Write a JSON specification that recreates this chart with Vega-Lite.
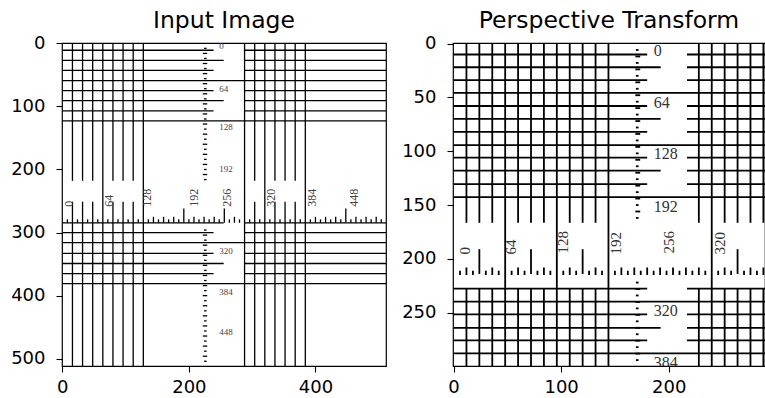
{
"$schema": "https://vega.github.io/schema/vega-lite/v6.json",
"background": "white",
"padding": {"left": 10, "top": 8, "right": 0, "bottom": 0},
"spacing": 14,
"config": {
 "view": {"stroke": "black", "strokeWidth": 1.2},
 "axis": {"domain": false, "grid": false, "tickColor": "black", "tickSize": 6, "tickWidth": 1.1, "labelFont": "DejaVu Sans", "labelFontSize": 18, "labelColor": "black", "labelFlush": false, "labelOverlap": false},
 "axisX": {"labelPadding": 6},
 "axisY": {"labelPadding": 11},
 "title": {"font": "DejaVu Sans", "fontSize": 23.5, "fontWeight": "normal", "color": "black", "baseline": "alphabetic", "offset": 2, "anchor": "middle"}
},
"datasets": {
 "Llines": [
  {"x":0,"y":11,"x2":239,"y2":11},{"x":288,"y":11,"x2":512,"y2":11},
  {"x":0,"y":27,"x2":255,"y2":27},{"x":288,"y":27,"x2":512,"y2":27},
  {"x":0,"y":43,"x2":239,"y2":43},{"x":288,"y":43,"x2":512,"y2":43},
  {"x":0,"y":59,"x2":512,"y2":59},
  {"x":0,"y":75,"x2":239,"y2":75},{"x":288,"y":75,"x2":512,"y2":75},
  {"x":0,"y":91,"x2":255,"y2":91},{"x":288,"y":91,"x2":512,"y2":91},
  {"x":0,"y":107,"x2":239,"y2":107},{"x":288,"y":107,"x2":512,"y2":107},
  {"x":0,"y":123,"x2":512,"y2":123},
  {"x":0,"y":284.5,"x2":255,"y2":284.5},{"x":288,"y":284.5,"x2":512,"y2":284.5},
  {"x":0,"y":300,"x2":239,"y2":300},{"x":288,"y":300,"x2":512,"y2":300},
  {"x":0,"y":316,"x2":512,"y2":316},
  {"x":0,"y":333,"x2":239,"y2":333},{"x":288,"y":333,"x2":512,"y2":333},
  {"x":0,"y":349,"x2":255,"y2":349},{"x":288,"y":349,"x2":512,"y2":349},
  {"x":0,"y":365,"x2":239,"y2":365},{"x":288,"y":365,"x2":512,"y2":365},
  {"x":0,"y":381,"x2":512,"y2":381},
  {"x":16,"y":0,"x2":16,"y2":218},{"x":16,"y":251,"x2":16,"y2":512},
  {"x":32,"y":0,"x2":32,"y2":218},{"x":32,"y":251,"x2":32,"y2":512},
  {"x":48,"y":0,"x2":48,"y2":218},{"x":48,"y":251,"x2":48,"y2":512},
  {"x":80,"y":0,"x2":80,"y2":218},{"x":80,"y":251,"x2":80,"y2":512},
  {"x":96,"y":0,"x2":96,"y2":218},{"x":96,"y":251,"x2":96,"y2":512},
  {"x":112,"y":0,"x2":112,"y2":218},{"x":112,"y":251,"x2":112,"y2":512},
  {"x":304,"y":0,"x2":304,"y2":218},{"x":304,"y":251,"x2":304,"y2":512},
  {"x":336,"y":0,"x2":336,"y2":218},{"x":336,"y":251,"x2":336,"y2":512},
  {"x":352,"y":0,"x2":352,"y2":218},{"x":352,"y":251,"x2":352,"y2":512},
  {"x":368,"y":0,"x2":368,"y2":218},{"x":368,"y":251,"x2":368,"y2":512},
  {"x":64,"y":0,"x2":64,"y2":512},{"x":128,"y":0,"x2":128,"y2":512},
  {"x":288,"y":0,"x2":288,"y2":512},{"x":320,"y":0,"x2":320,"y2":512},
  {"x":384,"y":0,"x2":384,"y2":512},
  {"x":144,"y":275,"x2":144,"y2":284.5},{"x":160,"y":275,"x2":160,"y2":284.5},
  {"x":176,"y":275,"x2":176,"y2":284.5},{"x":208,"y":275,"x2":208,"y2":284.5},
  {"x":224,"y":275,"x2":224,"y2":284.5},{"x":240,"y":275,"x2":240,"y2":284.5},
  {"x":272,"y":275,"x2":272,"y2":284.5},{"x":400,"y":275,"x2":400,"y2":284.5},
  {"x":416,"y":275,"x2":416,"y2":284.5},{"x":432,"y":275,"x2":432,"y2":284.5},
  {"x":464,"y":275,"x2":464,"y2":284.5},{"x":480,"y":275,"x2":480,"y2":284.5},
  {"x":496,"y":275,"x2":496,"y2":284.5},
  {"x":192,"y":262,"x2":192,"y2":284.5},{"x":256,"y":262,"x2":256,"y2":284.5},
  {"x":448,"y":262,"x2":448,"y2":284.5},
  {"x":8,"y":279,"x2":8,"y2":284.5},{"x":24,"y":279,"x2":24,"y2":284.5},
  {"x":40,"y":279,"x2":40,"y2":284.5},{"x":56,"y":279,"x2":56,"y2":284.5},
  {"x":72,"y":279,"x2":72,"y2":284.5},{"x":88,"y":279,"x2":88,"y2":284.5},
  {"x":104,"y":279,"x2":104,"y2":284.5},{"x":120,"y":279,"x2":120,"y2":284.5},
  {"x":136,"y":279,"x2":136,"y2":284.5},{"x":152,"y":279,"x2":152,"y2":284.5},
  {"x":168,"y":279,"x2":168,"y2":284.5},{"x":184,"y":279,"x2":184,"y2":284.5},
  {"x":200,"y":279,"x2":200,"y2":284.5},{"x":216,"y":279,"x2":216,"y2":284.5},
  {"x":232,"y":279,"x2":232,"y2":284.5},{"x":248,"y":279,"x2":248,"y2":284.5},
  {"x":264,"y":279,"x2":264,"y2":284.5},{"x":280,"y":279,"x2":280,"y2":284.5},
  {"x":296,"y":279,"x2":296,"y2":284.5},{"x":312,"y":279,"x2":312,"y2":284.5},
  {"x":328,"y":279,"x2":328,"y2":284.5},{"x":344,"y":279,"x2":344,"y2":284.5},
  {"x":360,"y":279,"x2":360,"y2":284.5},{"x":376,"y":279,"x2":376,"y2":284.5},
  {"x":392,"y":279,"x2":392,"y2":284.5},{"x":408,"y":279,"x2":408,"y2":284.5},
  {"x":424,"y":279,"x2":424,"y2":284.5},{"x":440,"y":279,"x2":440,"y2":284.5},
  {"x":456,"y":279,"x2":456,"y2":284.5},{"x":472,"y":279,"x2":472,"y2":284.5},
  {"x":488,"y":279,"x2":488,"y2":284.5},{"x":504,"y":279,"x2":504,"y2":284.5},
  {"x":224,"y":8,"x2":228,"y2":8},{"x":222,"y":16,"x2":229,"y2":16},
  {"x":224,"y":24,"x2":228,"y2":24},{"x":222,"y":32,"x2":229,"y2":32},
  {"x":224,"y":40,"x2":228,"y2":40},{"x":222,"y":48,"x2":229,"y2":48},
  {"x":224,"y":56,"x2":228,"y2":56},{"x":222,"y":64,"x2":229,"y2":64},
  {"x":224,"y":72,"x2":228,"y2":72},{"x":222,"y":80,"x2":229,"y2":80},
  {"x":224,"y":88,"x2":228,"y2":88},{"x":222,"y":96,"x2":229,"y2":96},
  {"x":224,"y":104,"x2":228,"y2":104},{"x":222,"y":112,"x2":229,"y2":112},
  {"x":224,"y":120,"x2":228,"y2":120},{"x":222,"y":128,"x2":229,"y2":128},
  {"x":224,"y":136,"x2":228,"y2":136},{"x":222,"y":144,"x2":229,"y2":144},
  {"x":224,"y":152,"x2":228,"y2":152},{"x":222,"y":160,"x2":229,"y2":160},
  {"x":224,"y":168,"x2":228,"y2":168},{"x":222,"y":176,"x2":229,"y2":176},
  {"x":224,"y":184,"x2":228,"y2":184},{"x":222,"y":192,"x2":229,"y2":192},
  {"x":224,"y":200,"x2":228,"y2":200},{"x":222,"y":208,"x2":229,"y2":208},
  {"x":224,"y":216,"x2":228,"y2":216},
  {"x":224,"y":296,"x2":228,"y2":296},{"x":222,"y":304,"x2":229,"y2":304},
  {"x":224,"y":312,"x2":228,"y2":312},{"x":222,"y":320,"x2":229,"y2":320},
  {"x":224,"y":328,"x2":228,"y2":328},{"x":222,"y":336,"x2":229,"y2":336},
  {"x":224,"y":344,"x2":228,"y2":344},{"x":222,"y":352,"x2":229,"y2":352},
  {"x":224,"y":360,"x2":228,"y2":360},{"x":222,"y":368,"x2":229,"y2":368},
  {"x":224,"y":376,"x2":228,"y2":376},{"x":222,"y":384,"x2":229,"y2":384},
  {"x":224,"y":392,"x2":228,"y2":392},{"x":222,"y":400,"x2":229,"y2":400},
  {"x":224,"y":408,"x2":228,"y2":408},{"x":222,"y":416,"x2":229,"y2":416},
  {"x":224,"y":424,"x2":228,"y2":424},{"x":222,"y":432,"x2":229,"y2":432},
  {"x":224,"y":440,"x2":228,"y2":440},{"x":222,"y":448,"x2":229,"y2":448},
  {"x":224,"y":456,"x2":228,"y2":456},{"x":222,"y":464,"x2":229,"y2":464},
  {"x":224,"y":472,"x2":228,"y2":472},{"x":222,"y":480,"x2":229,"y2":480},
  {"x":224,"y":488,"x2":228,"y2":488},{"x":222,"y":496,"x2":229,"y2":496},
  {"x":224,"y":504,"x2":228,"y2":504}
 ],
 "Ltext": [
  {"t":"0","x":248,"y":5},{"t":"64","x":248,"y":72},{"t":"128","x":248,"y":133},
  {"t":"192","x":248,"y":200},{"t":"320","x":248,"y":330},{"t":"384","x":248,"y":394},
  {"t":"448","x":248,"y":458}
 ],
 "Lrot": [
  {"t":"0","x":10,"y":259},{"t":"64","x":74,"y":259},{"t":"128","x":134,"y":259},
  {"t":"192","x":208,"y":259},{"t":"256","x":261,"y":259},{"t":"320","x":329,"y":259},
  {"t":"384","x":395,"y":259},{"t":"448","x":461,"y":259}
 ],
 "Rlines": [
  {"x":0,"y":10.2,"x2":180,"y2":10.2},{"x":217,"y":10.2,"x2":290,"y2":10.2},
  {"x":0,"y":22,"x2":192.5,"y2":22},{"x":217,"y":22,"x2":290,"y2":22},
  {"x":0,"y":34,"x2":180,"y2":34},{"x":217,"y":34,"x2":290,"y2":34},
  {"x":0,"y":45.8,"x2":290,"y2":45.8},
  {"x":0,"y":58,"x2":180,"y2":58},{"x":217,"y":58,"x2":290,"y2":58},
  {"x":0,"y":70,"x2":192.5,"y2":70},{"x":217,"y":70,"x2":290,"y2":70},
  {"x":0,"y":82,"x2":180,"y2":82},{"x":217,"y":82,"x2":290,"y2":82},
  {"x":0,"y":94.3,"x2":290,"y2":94.3},
  {"x":0,"y":106,"x2":180,"y2":106},{"x":217,"y":106,"x2":290,"y2":106},
  {"x":0,"y":118,"x2":192.5,"y2":118},{"x":217,"y":118,"x2":290,"y2":118},
  {"x":0,"y":130.5,"x2":180,"y2":130.5},{"x":217,"y":130.5,"x2":290,"y2":130.5},
  {"x":0,"y":142.7,"x2":290,"y2":142.7},
  {"x":0,"y":227.7,"x2":180,"y2":227.7},{"x":217,"y":227.7,"x2":290,"y2":227.7},
  {"x":0,"y":239.8,"x2":290,"y2":239.8},
  {"x":0,"y":251.6,"x2":180,"y2":251.6},{"x":217,"y":251.6,"x2":290,"y2":251.6},
  {"x":0,"y":264,"x2":192.5,"y2":264},{"x":217,"y":264,"x2":290,"y2":264},
  {"x":0,"y":275.7,"x2":180,"y2":275.7},{"x":217,"y":275.7,"x2":290,"y2":275.7},
  {"x":0,"y":287.8,"x2":290,"y2":287.8},
  {"x":12,"y":0,"x2":12,"y2":166.5},{"x":12,"y":227.7,"x2":12,"y2":300},
  {"x":24,"y":0,"x2":24,"y2":166.5},{"x":24,"y":227.7,"x2":24,"y2":300},
  {"x":36,"y":0,"x2":36,"y2":166.5},{"x":36,"y":227.7,"x2":36,"y2":300},
  {"x":60,"y":0,"x2":60,"y2":166.5},{"x":60,"y":227.7,"x2":60,"y2":300},
  {"x":72,"y":0,"x2":72,"y2":166.5},{"x":72,"y":227.7,"x2":72,"y2":300},
  {"x":84,"y":0,"x2":84,"y2":166.5},{"x":84,"y":227.7,"x2":84,"y2":300},
  {"x":108,"y":0,"x2":108,"y2":166.5},{"x":108,"y":227.7,"x2":108,"y2":300},
  {"x":120,"y":0,"x2":120,"y2":166.5},{"x":120,"y":227.7,"x2":120,"y2":300},
  {"x":132,"y":0,"x2":132,"y2":166.5},{"x":132,"y":227.7,"x2":132,"y2":300},
  {"x":228,"y":0,"x2":228,"y2":166.5},{"x":228,"y":227.7,"x2":228,"y2":300},
  {"x":252,"y":0,"x2":252,"y2":166.5},{"x":252,"y":227.7,"x2":252,"y2":300},
  {"x":264,"y":0,"x2":264,"y2":166.5},{"x":264,"y":227.7,"x2":264,"y2":300},
  {"x":276,"y":0,"x2":276,"y2":166.5},{"x":276,"y":227.7,"x2":276,"y2":300},
  {"x":288,"y":0,"x2":288,"y2":166.5},{"x":288,"y":227.7,"x2":288,"y2":300},
  {"x":48,"y":0,"x2":48,"y2":300},{"x":96,"y":0,"x2":96,"y2":300},
  {"x":144,"y":0,"x2":144,"y2":300},{"x":240,"y":0,"x2":240,"y2":300},
  {"x":24,"y":191,"x2":24,"y2":214},{"x":72,"y":191,"x2":72,"y2":214},
  {"x":120,"y":191,"x2":120,"y2":214},{"x":264,"y":191,"x2":264,"y2":214},
  {"x":12,"y":208,"x2":12,"y2":215},{"x":36,"y":208,"x2":36,"y2":215},
  {"x":60,"y":208,"x2":60,"y2":215},{"x":84,"y":208,"x2":84,"y2":215},
  {"x":108,"y":208,"x2":108,"y2":215},{"x":132,"y":208,"x2":132,"y2":215},
  {"x":156,"y":208,"x2":156,"y2":215},{"x":168,"y":208,"x2":168,"y2":215},
  {"x":180,"y":208,"x2":180,"y2":215},{"x":192,"y":208,"x2":192,"y2":215},
  {"x":204,"y":208,"x2":204,"y2":215},{"x":216,"y":208,"x2":216,"y2":215},
  {"x":228,"y":208,"x2":228,"y2":215},{"x":252,"y":208,"x2":252,"y2":215},
  {"x":276,"y":208,"x2":276,"y2":215},{"x":288,"y":208,"x2":288,"y2":215},
  {"x":6,"y":211,"x2":6,"y2":215},{"x":18,"y":211,"x2":18,"y2":215},
  {"x":30,"y":211,"x2":30,"y2":215},{"x":42,"y":211,"x2":42,"y2":215},
  {"x":54,"y":211,"x2":54,"y2":215},{"x":66,"y":211,"x2":66,"y2":215},
  {"x":78,"y":211,"x2":78,"y2":215},{"x":90,"y":211,"x2":90,"y2":215},
  {"x":102,"y":211,"x2":102,"y2":215},{"x":114,"y":211,"x2":114,"y2":215},
  {"x":126,"y":211,"x2":126,"y2":215},{"x":138,"y":211,"x2":138,"y2":215},
  {"x":150,"y":211,"x2":150,"y2":215},{"x":162,"y":211,"x2":162,"y2":215},
  {"x":174,"y":211,"x2":174,"y2":215},{"x":186,"y":211,"x2":186,"y2":215},
  {"x":198,"y":211,"x2":198,"y2":215},{"x":210,"y":211,"x2":210,"y2":215},
  {"x":222,"y":211,"x2":222,"y2":215},{"x":234,"y":211,"x2":234,"y2":215},
  {"x":246,"y":211,"x2":246,"y2":215},{"x":258,"y":211,"x2":258,"y2":215},
  {"x":270,"y":211,"x2":270,"y2":215},{"x":282,"y":211,"x2":282,"y2":215},
  {"x":169.5,"y":6,"x2":172,"y2":6},{"x":169,"y":12,"x2":173.5,"y2":12},
  {"x":169.5,"y":18,"x2":172,"y2":18},{"x":169,"y":24,"x2":173.5,"y2":24},
  {"x":169.5,"y":30,"x2":172,"y2":30},{"x":169,"y":36,"x2":173.5,"y2":36},
  {"x":169.5,"y":42,"x2":172,"y2":42},{"x":169,"y":48,"x2":173.5,"y2":48},
  {"x":169.5,"y":54,"x2":172,"y2":54},{"x":169,"y":60,"x2":173.5,"y2":60},
  {"x":169.5,"y":66,"x2":172,"y2":66},{"x":169,"y":72,"x2":173.5,"y2":72},
  {"x":169.5,"y":78,"x2":172,"y2":78},{"x":169,"y":84,"x2":173.5,"y2":84},
  {"x":169.5,"y":90,"x2":172,"y2":90},{"x":169,"y":96,"x2":173.5,"y2":96},
  {"x":169.5,"y":102,"x2":172,"y2":102},{"x":169,"y":108,"x2":173.5,"y2":108},
  {"x":169.5,"y":114,"x2":172,"y2":114},{"x":169,"y":120,"x2":173.5,"y2":120},
  {"x":169.5,"y":126,"x2":172,"y2":126},{"x":169,"y":132,"x2":173.5,"y2":132},
  {"x":169.5,"y":138,"x2":172,"y2":138},{"x":169,"y":144,"x2":173.5,"y2":144},
  {"x":169.5,"y":150,"x2":172,"y2":150},{"x":169,"y":156,"x2":173.5,"y2":156},
  {"x":169.5,"y":162,"x2":172,"y2":162},
  {"x":169.5,"y":222,"x2":172,"y2":222},{"x":169,"y":228,"x2":173.5,"y2":228},
  {"x":169.5,"y":234,"x2":172,"y2":234},{"x":169,"y":240,"x2":173.5,"y2":240},
  {"x":169.5,"y":246,"x2":172,"y2":246},{"x":169,"y":252,"x2":173.5,"y2":252},
  {"x":169.5,"y":258,"x2":172,"y2":258},{"x":169,"y":264,"x2":173.5,"y2":264},
  {"x":169.5,"y":270,"x2":172,"y2":270},{"x":169,"y":276,"x2":173.5,"y2":276},
  {"x":169.5,"y":282,"x2":172,"y2":282},{"x":169,"y":288,"x2":173.5,"y2":288},
  {"x":169.5,"y":294,"x2":172,"y2":294}
 ],
 "Rtext": [
  {"t":"0","x":186,"y":7},{"t":"64","x":186,"y":55},{"t":"128","x":186,"y":103},
  {"t":"192","x":186,"y":151.5},{"t":"320","x":186,"y":248},{"t":"384","x":186,"y":297}
 ],
 "Rrot": [
  {"t":"0","x":10.7,"y":196},{"t":"64","x":53.8,"y":196},{"t":"128","x":101.6,"y":195},
  {"t":"192","x":150.8,"y":196},{"t":"256","x":200,"y":195},{"t":"320","x":247.7,"y":196}
 ]
},
"hconcat": [
 {
  "title": "Input Image",
  "width": 324, "height": 323,
  "encoding": {
   "x": {"field": "x", "type": "quantitative", "scale": {"domain": [-0.5, 511.5], "nice": false, "zero": false}, "axis": {"values": [0, 200, 400], "title": null}},
   "y": {"field": "y", "type": "quantitative", "scale": {"domain": [-0.5, 511.5], "nice": false, "zero": false, "reverse": true}, "axis": {"values": [0, 100, 200, 300, 400, 500], "title": null}}
  },
  "layer": [
   {"data": {"name": "Llines"}, "mark": {"type": "rule", "color": "black", "strokeWidth": 1.3, "clip": true}, "encoding": {"x2": {"field": "x2"}, "y2": {"field": "y2"}}},
   {"data": {"name": "Ltext"}, "mark": {"type": "text", "font": "Liberation Serif", "fontSize": 9, "align": "left", "baseline": "middle", "color": "#444", "clip": true}, "encoding": {"text": {"field": "t"}}},
   {"data": {"name": "Lrot"}, "mark": {"type": "text", "font": "Liberation Serif", "fontSize": 12, "angle": 270, "align": "left", "baseline": "middle", "color": "#444", "clip": true}, "encoding": {"text": {"field": "t"}}}
  ]
 },
 {
  "title": "Perspective Transform",
  "width": 312, "height": 323,
  "encoding": {
   "x": {"field": "x", "type": "quantitative", "scale": {"domain": [-0.5, 289.5], "nice": false, "zero": false}, "axis": {"values": [0, 100, 200], "title": null}},
   "y": {"field": "y", "type": "quantitative", "scale": {"domain": [-0.5, 299.5], "nice": false, "zero": false, "reverse": true}, "axis": {"values": [0, 50, 100, 150, 200, 250], "title": null}}
  },
  "layer": [
   {"data": {"name": "Rlines"}, "mark": {"type": "rule", "color": "black", "strokeWidth": 1.8, "clip": true}, "encoding": {"x2": {"field": "x2"}, "y2": {"field": "y2"}}},
   {"data": {"name": "Rtext"}, "mark": {"type": "text", "font": "Liberation Serif", "fontSize": 16, "align": "left", "baseline": "middle", "color": "#333", "clip": true}, "encoding": {"text": {"field": "t"}}},
   {"data": {"name": "Rrot"}, "mark": {"type": "text", "font": "Liberation Serif", "fontSize": 15, "angle": 270, "align": "left", "baseline": "middle", "color": "#333", "clip": true}, "encoding": {"text": {"field": "t"}}}
  ]
 }
]
}
